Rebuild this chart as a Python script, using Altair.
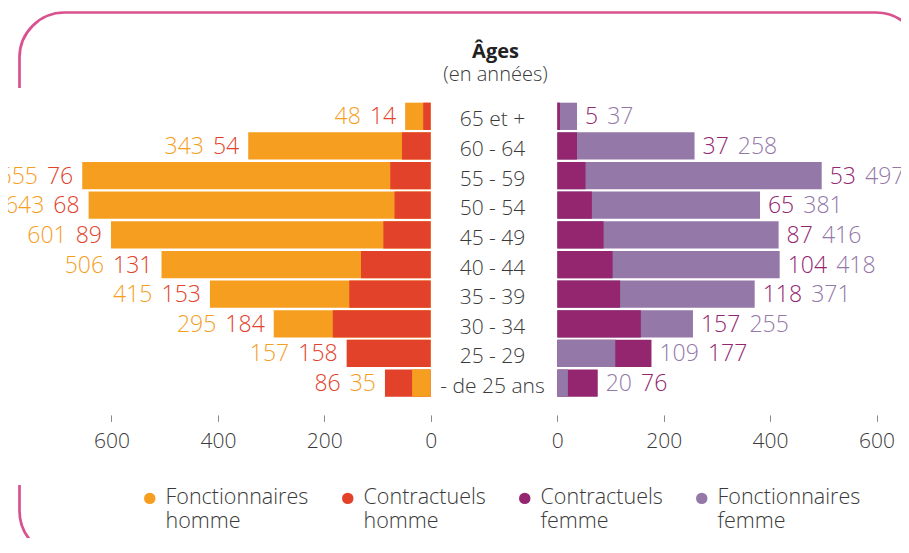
import altair as alt
import pandas as pd

# ---------------- data ----------------
ages = ["65 et +", "60 - 64", "55 - 59", "50 - 54", "45 - 49",
        "40 - 44", "35 - 39", "30 - 34", "25 - 29", "- de 25 ans"]
fonct_homme = [48, 343, 655, 643, 601, 506, 415, 295, 157, 35]
contr_homme = [14, 54, 76, 68, 89, 131, 153, 184, 158, 86]
contr_femme = [5, 37, 53, 65, 87, 104, 118, 157, 177, 76]
fonct_femme = [37, 258, 497, 381, 416, 418, 371, 255, 109, 20]
# series drawn in front (bar on top, label next to the bar): C = contractuels, F = fonctionnaires
front_homme = ["C", "C", "C", "C", "C", "C", "C", "C", "C", "F"]
front_femme = ["C", "C", "C", "C", "C", "C", "C", "C", "F", "F"]

series = ["Fonctionnaires homme", "Contractuels homme",
          "Contractuels femme", "Fonctionnaires femme"]
colors = ["#F59E1F", "#E2412A", "#93266F", "#9378A8"]
axis_ticks = [0, 200, 400, 600]
title_lines = ["Âges", "(en années)"]

FONT = "Open Sans"
TXT = "#3a3a3a"
FW = 300


def side(fonct, contr, front, f_name, c_name):
    rows = []
    for a, f, c, fr in zip(ages, fonct, contr, front):
        if fr == "C":
            rows.append(dict(age=a, front_s=c_name, front_v=c, back_s=f_name, back_v=f))
        else:
            rows.append(dict(age=a, front_s=f_name, front_v=f, back_s=c_name, back_v=c))
    df = pd.DataFrame(rows)
    df["end"] = df[["front_v", "back_v"]].max(axis=1)
    return df


left_df = side(fonct_homme, contr_homme, front_homme, series[0], series[1])
right_df = side(fonct_femme, contr_femme, front_femme, series[3], series[2])

# ---------------- layout ----------------
W, H = 893, 296.4
K = 0.532            # px per person
zeroL, zeroR = 422.7, 549.3
scL = alt.Scale(domain=[zeroL / K - W / K, zeroL / K], reverse=True, zero=False, nice=False)
scR = alt.Scale(domain=[-zeroR / K, W / K - zeroR / K], zero=False, nice=False)

LBL = 23
DW = 0.5718 * LBL
SP = 9
GAPL, GAPR = 9, 8

cscale = alt.Scale(domain=series, range=colors)
legend_def = alt.Legend(
    title=None, orient="none", legendX=131, legendY=386, direction="horizontal",
    columns=4, symbolType="circle", symbolSize=130, symbolStrokeWidth=0,
    labelExpr="split(datum.label, ' ')", labelFontSize=21.5, labelFont=FONT,
    labelFontWeight=FW, labelColor=TXT, columnPadding=28, labelOffset=5, labelLimit=300,
)

yscale = alt.Scale(domain=ages, paddingInner=0.08, paddingOuter=0.04)
y_axis = alt.Axis(title=None, domain=False, ticks=False, tickSize=0, labelAlign="center",
                  labelPadding=0, offset=-484, labelFontSize=21, labelColor=TXT,
                  labelFont=FONT, labelFontWeight=FW, orient="left",
                  labelBaseline="middle", labelOffset=4)


def x_axis():
    return alt.Axis(values=axis_ticks, title=None, domain=False, grid=False, ticks=True,
                    tickSize=6.5, tickColor="#8a8a8a", labelFontSize=21, labelColor=TXT,
                    labelPadding=9, offset=17, orient="bottom", format="d",
                    labelFont=FONT, labelFontWeight=FW, labelFlush=False)


def col(field):
    return alt.Color(field + ":N", scale=cscale, legend=legend_def)


def Y():
    return alt.Y("age:N", scale=yscale, sort=ages, axis=y_axis)


def make_side(df, sc, align, gap):
    base = alt.Chart(df)
    sign = -1 if align == "right" else 1
    back = base.mark_bar().encode(
        x=alt.X("back_v:Q", scale=sc, axis=x_axis()), x2=alt.datum(0),
        y=Y(), color=col("back_s"))
    front = base.mark_bar().encode(
        x=alt.X("front_v:Q", scale=sc, axis=x_axis()), x2=alt.datum(0),
        y=Y(), color=col("front_s"))
    inner = base.mark_text(align=align, baseline="middle", dx=sign * gap, dy=1,
                           fontSize=LBL, font=FONT, fontWeight=FW).encode(
        x=alt.X("end:Q", scale=sc, axis=x_axis()), y=Y(),
        text=alt.Text("front_v:Q", format="d"), color=col("front_s"))
    outer = base.transform_calculate(
        xo=f"datum.end + ({gap} + length(toString(datum.front_v)) * {DW} + {SP}) / {K}"
    ).mark_text(align=align, baseline="middle", dy=1, fontSize=LBL, font=FONT,
                fontWeight=FW).encode(
        x=alt.X("xo:Q", scale=sc, axis=x_axis()), y=Y(),
        text=alt.Text("back_v:Q", format="d"), color=col("back_s"))
    return alt.layer(back, front, inner, outer)


left = make_side(left_df, scL, "right", GAPL)
right = make_side(right_df, scR, "left", GAPR)

# ---------- decorative rounded frame ----------
one = pd.DataFrame({"d": [0]})
frame = alt.Chart(one).mark_rect(cornerRadius=45, fillOpacity=0, stroke="#D9518F",
                                 strokeWidth=2.7).encode(
    x=alt.value(11.5), x2=alt.value(913), y=alt.value(-89), y2=alt.value(454.5))
mask = alt.Chart(one).mark_rect(color="white").encode(
    x=alt.value(6), x2=alt.value(17), y=alt.value(-13.5), y2=alt.value(383.5))

# ---------- title (text marks centred over the age column) ----------
t_main = alt.Chart(pd.DataFrame({"t": [title_lines[0]]})).mark_text(
    align="center", baseline="alphabetic", fontSize=20, fontWeight="bold", font=FONT,
    color="#222222").encode(text="t:N", x=alt.value(487.5), y=alt.value(-44))
t_sub = alt.Chart(pd.DataFrame({"t": [title_lines[1]]})).mark_text(
    align="center", baseline="alphabetic", fontSize=20, font=FONT, fontWeight=FW,
    color=TXT).encode(text="t:N", x=alt.value(487.5), y=alt.value(-21))

chart = alt.layer(frame, mask, t_main, t_sub, left, right).resolve_scale(
    x="independent").properties(
    width=W, height=H,
    autosize=alt.AutoSizeParams(type="none"),
    padding={"left": 0, "right": 0, "top": 93.5, "bottom": 140.1},
).configure_view(strokeWidth=0).configure_axis(grid=False)

chart.save("out.html", embed_options={"renderer": "svg", "actions": False})
